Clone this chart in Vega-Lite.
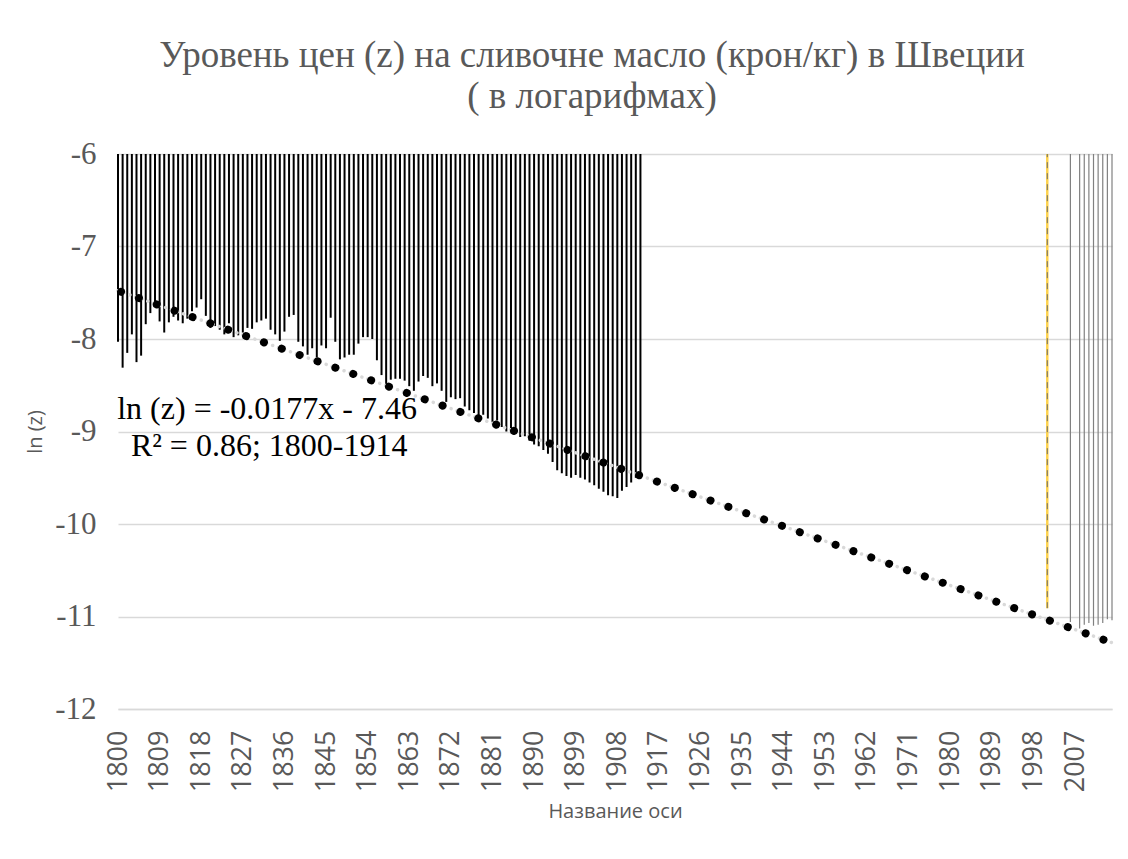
{
  "$schema": "https://vega.github.io/schema/vega-lite/v6.json",
  "autosize": "none",
  "width": 994,
  "height": 555,
  "padding": {"left": 118, "top": 154, "right": 16, "bottom": 150},
  "background": "white",
  "config": {"view": {"stroke": null}},
  "title": {
    "text": ["Уровень цен (z) на сливочне масло (крон/кг) в Швеции", "( в логарифмах)"],
    "font": "Liberation Serif",
    "fontSize": 37,
    "fontWeight": "normal",
    "color": "#595959",
    "anchor": "middle",
    "dx": -23,
    "offset": 22,
    "lineHeight": 41
  },
  "datasets": {
    "bars": [
      {"year": 1800, "v": -8.03}, {"year": 1801, "v": -8.31}, {"year": 1802, "v": -8.15}, {"year": 1803, "v": -7.95},
      {"year": 1804, "v": -8.25}, {"year": 1805, "v": -8.18}, {"year": 1806, "v": -7.84}, {"year": 1807, "v": -7.72},
      {"year": 1808, "v": -7.64}, {"year": 1809, "v": -7.81}, {"year": 1810, "v": -7.93}, {"year": 1811, "v": -7.82},
      {"year": 1812, "v": -7.76}, {"year": 1813, "v": -7.80}, {"year": 1814, "v": -7.83}, {"year": 1815, "v": -7.78},
      {"year": 1816, "v": -7.70}, {"year": 1817, "v": -7.66}, {"year": 1818, "v": -7.57}, {"year": 1819, "v": -7.75},
      {"year": 1820, "v": -7.88}, {"year": 1821, "v": -7.86}, {"year": 1822, "v": -7.90}, {"year": 1823, "v": -7.95},
      {"year": 1824, "v": -7.83}, {"year": 1825, "v": -7.98}, {"year": 1826, "v": -7.96}, {"year": 1827, "v": -7.93},
      {"year": 1828, "v": -7.88}, {"year": 1829, "v": -7.89}, {"year": 1830, "v": -7.82}, {"year": 1831, "v": -7.80},
      {"year": 1832, "v": -7.78}, {"year": 1833, "v": -7.90}, {"year": 1834, "v": -7.95}, {"year": 1835, "v": -8.02},
      {"year": 1836, "v": -7.92}, {"year": 1837, "v": -7.76}, {"year": 1838, "v": -7.74}, {"year": 1839, "v": -8.03},
      {"year": 1840, "v": -8.08}, {"year": 1841, "v": -8.17}, {"year": 1842, "v": -8.10}, {"year": 1843, "v": -8.20},
      {"year": 1844, "v": -8.07}, {"year": 1845, "v": -8.10}, {"year": 1846, "v": -7.77}, {"year": 1847, "v": -8.03},
      {"year": 1848, "v": -8.22}, {"year": 1849, "v": -8.20}, {"year": 1850, "v": -8.17}, {"year": 1851, "v": -8.17},
      {"year": 1852, "v": -8.05}, {"year": 1853, "v": -7.98}, {"year": 1854, "v": -7.98}, {"year": 1855, "v": -8.00},
      {"year": 1856, "v": -8.23}, {"year": 1857, "v": -8.39}, {"year": 1858, "v": -8.53}, {"year": 1859, "v": -8.44},
      {"year": 1860, "v": -8.43}, {"year": 1861, "v": -8.43}, {"year": 1862, "v": -8.45}, {"year": 1863, "v": -8.51},
      {"year": 1864, "v": -8.56}, {"year": 1865, "v": -8.46}, {"year": 1866, "v": -8.40}, {"year": 1867, "v": -8.42},
      {"year": 1868, "v": -8.51}, {"year": 1869, "v": -8.48}, {"year": 1870, "v": -8.56}, {"year": 1871, "v": -8.68},
      {"year": 1872, "v": -8.63}, {"year": 1873, "v": -8.65}, {"year": 1874, "v": -8.64}, {"year": 1875, "v": -8.73},
      {"year": 1876, "v": -8.77}, {"year": 1877, "v": -8.80}, {"year": 1878, "v": -8.84}, {"year": 1879, "v": -8.82},
      {"year": 1880, "v": -8.86}, {"year": 1881, "v": -8.90}, {"year": 1882, "v": -8.88}, {"year": 1883, "v": -8.95},
      {"year": 1884, "v": -9.00}, {"year": 1885, "v": -8.98}, {"year": 1886, "v": -9.02}, {"year": 1887, "v": -9.06},
      {"year": 1888, "v": -9.05}, {"year": 1889, "v": -9.10}, {"year": 1890, "v": -9.14}, {"year": 1891, "v": -9.16},
      {"year": 1892, "v": -9.20}, {"year": 1893, "v": -9.24}, {"year": 1894, "v": -9.33}, {"year": 1895, "v": -9.42},
      {"year": 1896, "v": -9.45}, {"year": 1897, "v": -9.48}, {"year": 1898, "v": -9.50}, {"year": 1899, "v": -9.47},
      {"year": 1900, "v": -9.50}, {"year": 1901, "v": -9.52}, {"year": 1902, "v": -9.55}, {"year": 1903, "v": -9.58},
      {"year": 1904, "v": -9.62}, {"year": 1905, "v": -9.65}, {"year": 1906, "v": -9.69}, {"year": 1907, "v": -9.70},
      {"year": 1908, "v": -9.72}, {"year": 1909, "v": -9.64}, {"year": 1910, "v": -9.60}, {"year": 1911, "v": -9.55},
      {"year": 1912, "v": -9.50}, {"year": 1913, "v": -9.47}
    ],
    "recent": [
      {"year": 2006, "v": -11.06}, {"year": 2008, "v": -11.13}, {"year": 2009, "v": -11.09}, {"year": 2010, "v": -11.07},
      {"year": 2011, "v": -11.10}, {"year": 2012, "v": -11.09}, {"year": 2013, "v": -11.07}, {"year": 2014, "v": -11.03},
      {"year": 2015, "v": -11.04}
    ],
    "trend": [
      {"year": 1800, "v": -7.4777},
      {"year": 2015, "v": -11.2832}
    ],
    "marker": [
      {"year": 2001, "v": -10.91}
    ],
    "eq1": [{"label": "ln (z) = -0.0177x - 7.46"}],
    "eq2": [{"label": "R² = 0.86; 1800-1914"}]
  },
  "layer": [
    {
      "data": {"name": "bars"},
      "mark": {"type": "rule", "color": "#000000", "strokeWidth": 2},
      "encoding": {
        "x": {
          "field": "year",
          "type": "quantitative",
          "scale": {"domain": [1800, 2015], "nice": false, "zero": false},
          "axis": {
            "values": [1800, 1809, 1818, 1827, 1836, 1845, 1854, 1863, 1872, 1881, 1890, 1899, 1908, 1917, 1926, 1935, 1944, 1953, 1962, 1971, 1980, 1989, 1998, 2007],
            "format": "d",
            "labelAngle": -90,
            "labelFont": "Open Sans",
            "labelFontSize": 27,
            "labelColor": "#595959",
            "labelPadding": 21,
            "labelOverlap": false,
            "labelFlush": false,
            "labelBound": false,
            "ticks": false,
            "grid": false,
            "domainColor": "#d9d9d9",
            "domainWidth": 1.5,
            "title": "Название оси",
            "titleFont": "Open Sans",
            "titleFontSize": 20,
            "titleFontWeight": "normal",
            "titleColor": "#595959",
            "titlePadding": 10
          }
        },
        "y": {
          "field": "v",
          "type": "quantitative",
          "scale": {"domain": [-12, -6], "nice": false, "zero": false},
          "axis": {
            "values": [-12, -11, -10, -9, -8, -7, -6],
            "labelExpr": "'' + datum.value",
            "labelFont": "Liberation Serif",
            "labelFontSize": 31,
            "labelColor": "#595959",
            "labelPadding": 22,
            "ticks": false,
            "domain": false,
            "grid": true,
            "gridColor": "#d9d9d9",
            "gridWidth": 1.5,
            "title": "ln (z)",
            "titleFont": "Open Sans",
            "titleFontSize": 20,
            "titleFontWeight": "normal",
            "titleColor": "#595959",
            "titlePadding": 9
          }
        },
        "y2": {"datum": -6}
      }
    },
    {
      "data": {"name": "recent"},
      "mark": {"type": "rule", "color": "#808080", "strokeWidth": 1.2},
      "encoding": {
        "x": {"field": "year", "type": "quantitative"},
        "y": {"field": "v", "type": "quantitative"},
        "y2": {"datum": -6}
      }
    },
    {
      "data": {"name": "trend"},
      "mark": {"type": "line", "color": "#d9d9d9", "strokeWidth": 3.5, "strokeCap": "round", "strokeDash": [0.01, 6.3]},
      "encoding": {
        "x": {"field": "year", "type": "quantitative"},
        "y": {"field": "v", "type": "quantitative"}
      }
    },
    {
      "data": {"name": "trend"},
      "mark": {"type": "line", "color": "#000000", "strokeWidth": 8, "strokeCap": "round", "strokeDash": [0.01, 18.94], "strokeDashOffset": 15.74},
      "encoding": {
        "x": {"field": "year", "type": "quantitative"},
        "y": {"field": "v", "type": "quantitative"}
      }
    },
    {
      "data": {"name": "marker"},
      "mark": {"type": "rule", "color": "#ffd34d", "strokeWidth": 2.5},
      "encoding": {
        "x": {"field": "year", "type": "quantitative"},
        "y": {"field": "v", "type": "quantitative"},
        "y2": {"datum": -6}
      }
    },
    {
      "data": {"name": "marker"},
      "mark": {"type": "rule", "color": "#6b6b6b", "strokeWidth": 1, "strokeDash": [6, 5]},
      "encoding": {
        "x": {"field": "year", "type": "quantitative"},
        "y": {"field": "v", "type": "quantitative"},
        "y2": {"datum": -6}
      }
    },
    {
      "data": {"name": "eq1"},
      "mark": {"type": "text", "font": "Liberation Serif", "fontSize": 32, "color": "#000000", "align": "center", "baseline": "alphabetic"},
      "encoding": {
        "x": {"datum": 1832.25, "type": "quantitative"},
        "y": {"datum": -8.865, "type": "quantitative"},
        "text": {"field": "label", "type": "nominal"}
      }
    },
    {
      "data": {"name": "eq2"},
      "mark": {"type": "text", "font": "Liberation Serif", "fontSize": 32, "color": "#000000", "align": "center", "baseline": "alphabetic"},
      "encoding": {
        "x": {"datum": 1832.7, "type": "quantitative"},
        "y": {"datum": -9.265, "type": "quantitative"},
        "text": {"field": "label", "type": "nominal"}
      }
    }
  ]
}
